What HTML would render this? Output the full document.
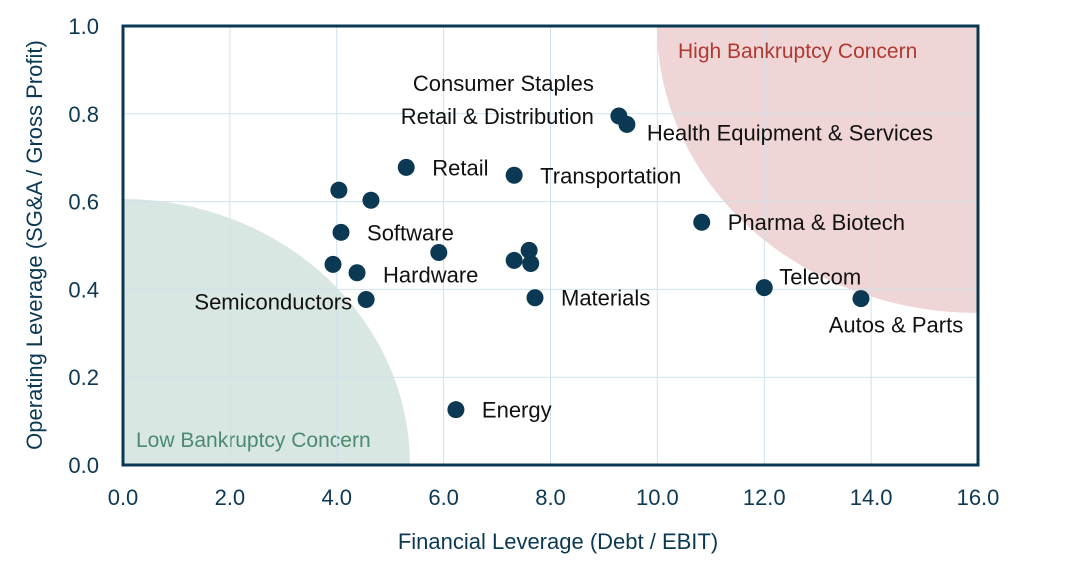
<!DOCTYPE html>
<html><head><meta charset="utf-8"><style>
html,body{margin:0;background:#fff;width:1074px;height:562px;overflow:hidden}
svg{display:block;font-family:"Liberation Sans",sans-serif}
</style></head><body>
<svg id="chart" width="1074" height="562">
<defs><clipPath id="plotclip"><rect x="123" y="26" width="855" height="439"/></clipPath></defs>
<g id="zones" clip-path="url(#plotclip)"></g>
<g id="grid"></g>
<g id="points"></g>
<rect x="123" y="26" width="855" height="439" fill="none" stroke="#0b3954" stroke-width="3"/>
<g id="axes"></g>
</svg>
<script>
const names=["Consumer Staples","Health Equipment & Services","Retail","Transportation","","","Pharma & Biotech","Software","","","","","","Hardware","Semiconductors","Materials","Telecom","Autos & Parts","Energy"];
const xVals=[9.28,9.43,5.30,7.32,4.04,4.64,10.83,4.08,5.91,7.60,7.32,7.63,3.93,4.38,4.55,7.71,12.0,13.81,6.23];
const yVals=[0.795,0.776,0.678,0.660,0.626,0.603,0.553,0.530,0.484,0.489,0.466,0.459,0.457,0.438,0.377,0.381,0.404,0.379,0.126];
const xTicks=[0,2,4,6,8,10,12,14,16];
const yTicks=[0,0.2,0.4,0.6,0.8,1.0];
const labelPos=[["end",-25,-25],["start",20,16],["start",26,8],["start",26,8],null,null,["start",26,8],["start",26,8],null,null,null,null,null,["start",26,10],["end",-14,10],["start",26,8],["start",15,-3],["middle",35,34],["start",26,8]];
const X0=123,X1=978,Y0=465,Y1=26;
const sx=v=>X0+(v-0)/16*(X1-X0);
const sy=v=>Y0-(v-0)/1*(Y0-Y1);
const NS="http://www.w3.org/2000/svg";
function mk(tag,attrs,parent){const e=document.createElementNS(NS,tag);for(const k in attrs)e.setAttribute(k,attrs[k]);parent.appendChild(e);return e;}
const zones=document.getElementById('zones'),grid=document.getElementById('grid'),pts=document.getElementById('points'),axes=document.getElementById('axes');
let z=mk('ellipse',{cx:sx(0),cy:sy(0),rx:287,ry:266,fill:'#d9e7e2'},zones);


z=mk('ellipse',{cx:sx(16),cy:sy(1),rx:321,ry:287,fill:'#efd5d5'},zones);


let t=mk('text',{x:136,y:447,'font-size':21,fill:'#4a8a72'},zones);t.textContent='Low Bankruptcy Concern';


t=mk('text',{x:678,y:58,'font-size':21,fill:'#b03a32'},zones);t.textContent='High Bankruptcy Concern';


xTicks.forEach(v=>{
  const l=mk('line',{x1:sx(v),x2:sx(v),y1:Y1,y2:Y0,stroke:'#cfe2ec','stroke-width':1},grid);
  
  
  const tx=mk('text',{x:sx(v),y:505,'font-size':22,fill:'#0b3954','text-anchor':'middle'},axes);tx.textContent=v.toFixed(1);
  
  
});
yTicks.forEach(v=>{
  const l=mk('line',{x1:X0,x2:X1,y1:sy(v),y2:sy(v),stroke:'#cfe2ec','stroke-width':1},grid);
  
  
  const tx=mk('text',{x:99,y:sy(v)+8,'font-size':22,fill:'#0b3954','text-anchor':'end'},axes);tx.textContent=v.toFixed(1);
  
  
});
t=mk('text',{x:558,y:549,'font-size':22,fill:'#0b3954','text-anchor':'middle'},axes);t.textContent='Financial Leverage (Debt / EBIT)';


t=mk('text',{x:0,y:0,'font-size':22,fill:'#0b3954','text-anchor':'middle',transform:'translate(42,245) rotate(-90)'},axes);t.textContent='Operating Leverage (SG&A / Gross Profit)';


xVals.forEach((xv,i)=>{
  const c=mk('circle',{cx:sx(xv),cy:sy(yVals[i]),r:8.5,fill:'#0b3954'},pts);
  
  
  const lp=labelPos[i];
  if(names[i]&&lp){
    const tx=mk('text',{x:sx(xv)+lp[1],y:sy(yVals[i])+lp[2],'font-size':22,fill:'#111','text-anchor':lp[0]},pts);
    tx.textContent=names[i];
    
    
  }
});
t=mk('text',{x:sx(xVals[0])-25,y:sy(yVals[0])+8,'font-size':22,fill:'#111','text-anchor':'end'},pts);t.textContent='Retail & Distribution';


</script>
</body></html>
